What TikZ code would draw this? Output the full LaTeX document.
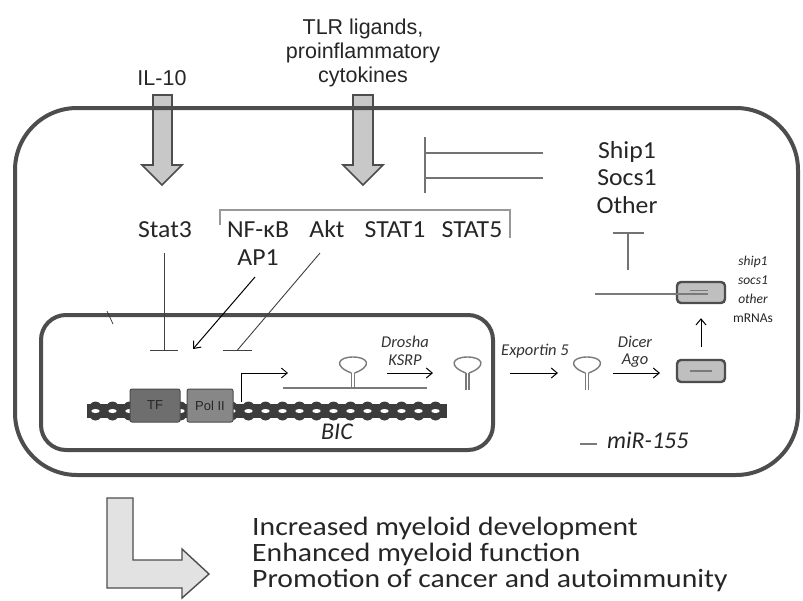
\documentclass[tikz,border=0pt]{standalone}
\usepackage{fontspec}
\setmainfont{Carlito}
\newfontfamily\arialf{Liberation Sans}
\newfontfamily\labfont[FakeStretch=1.05]{Carlito}
\newfontfamily\outfont[FakeStretch=1.12]{Carlito}
\usetikzlibrary{arrows.meta}
\definecolor{cellc}{HTML}{4D4D4D}
\definecolor{blockfill}{HTML}{C8C8C8}
\definecolor{lgray}{HTML}{E2E2E2}
\definecolor{rnac}{HTML}{7A7A7A}
\definecolor{dnac}{HTML}{3C3C3C}
\begin{document}
\begin{tikzpicture}[x=1pt,y=-1pt,
  lab/.style={font=\labfont\fontsize{24.5}{28}\selectfont, inner sep=0, anchor=base, text=black!85},
  arlab/.style={font=\arialf\fontsize{21.5}{25}\selectfont, inner sep=0, anchor=base, text=black!85},
  itlab/.style={font=\itshape\fontsize{16.5}{19}\selectfont, inner sep=0, anchor=base, text=black!80},
  smit/.style={font=\itshape\fontsize{13.5}{16}\selectfont, inner sep=0, anchor=base, text=black!85},
  outlab/.style={font=\outfont\fontsize{26.5}{30}\selectfont, inner sep=0, anchor=base west, text=black!85},
  blockarrow/.style={fill=blockfill, draw=cellc, line width=1.6pt},
  membrane/.style={draw=cellc, line width=4pt},
  inhib/.style={draw=black!75, line width=0.9pt},
  act/.style={draw=black, line width=1pt, -{Straight Barb[length=6pt,width=10pt]}},
  tline/.style={draw=black!55, line width=1.8pt},
  rna/.style={draw=rnac, line width=1.6pt},
  risc/.style={fill=black!25, draw=cellc, line width=2.4pt, rounded corners=4pt},
  protbox/.style={draw=black!70, line width=1pt, rounded corners=2pt, inner sep=0, font=\arialf\fontsize{13}{15}\selectfont, text=black!85}
]
\useasboundingbox (0,0) rectangle (803,600);
\fill[white] (0,0) rectangle (803,600);

% block arrows entering the cell
\path[blockarrow] (153,95) -- (172,95) -- (172,165) -- (182,165) -- (162,185) -- (142,165) -- (153,165) -- cycle;
\path[blockarrow] (353,95) -- (373,95) -- (373,165) -- (383,165) -- (363,185) -- (343,165) -- (353,165) -- cycle;

% cell and nucleus
\draw[membrane, rounded corners=62pt] (15,108) rectangle (798,475);
\draw[membrane, rounded corners=25pt] (41,315) rectangle (493,450);
\draw[black!80, line width=0.7pt] (107,311) -- (113,324);

% top labels
\node[arlab] (il10) at (162,85) {IL-10};
\node[arlab] (tlr1) at (363,34) {TLR ligands,};
\node[arlab] (tlr2) at (363,58.5) {proinflammatory};
\node[arlab] (tlr3) at (363,82) {cytokines};

% factors
\node[lab] (stat3) at (165,237) {Stat3};
\node[lab] (nfkb) at (258,237) {NF-κB};
\node[lab] (akt) at (327,237) {Akt};
\node[lab] (stat1) at (395,237) {STAT1};
\node[lab] (stat5) at (472,237) {STAT5};
\node[lab] (ap1) at (258,265) {AP1};
\draw[draw=black!40, line width=1.1pt] (220,225) -- (220,210) -- (510,210) -- (510,238);

% targets
\node[lab] (ship1) at (627,158) {Ship1};
\node[lab] (socs1) at (627,185) {Socs1};
\node[lab] (other) at (627,213) {Other};
\coordinate (tbarT) at (425,137);
\coordinate (tbarB) at (425,193);
\coordinate (s1end) at (543,153);
\coordinate (s2end) at (543,178);
\draw[tline] (tbarT) -- (tbarB);
\draw[tline] (s1end) -- (s1end -| tbarT);
\draw[tline] (s2end) -- (s2end -| tbarT);

% regulation onto BIC
\coordinate (stat3end) at (164,350);
\draw[inhib] (164,253) -- (stat3end);
\draw[inhib] ([xshift=-14pt]stat3end) -- ([xshift=14pt]stat3end);
\draw[act] (255,277) -- (193,349);
\coordinate (aktend) at (237.5,350);
\draw[inhib] (320,253) -- (aktend);
\draw[inhib] ([xshift=-14.5pt]aktend) -- ([xshift=14.5pt]aktend);

% DNA
\fill[dnac] (87,404) rectangle (447,418);
\foreach \i in {0,...,20} {
  \fill[dnac] ({95.5+17*\i},411) ellipse (7.5pt and 9.5pt);
}
\foreach \i in {0,...,20} {
  \fill[white] ({95.5+17*\i},411) ellipse (4.2pt and 2pt);
}
\node[protbox, fill=black!57, minimum width=50pt, minimum height=33pt] (tf) at (155,405.5) {TF};
\node[protbox, fill=black!47, minimum width=46pt, minimum height=33pt] (pol) at (210,405.5) {Pol II};
\node[font=\itshape\fontsize{24}{28}\selectfont, inner sep=0, anchor=base, text=black!85] (bic) at (337,439) {BIC};

% transcription
\coordinate (tss) at (241,402);
\coordinate (tsend) at (288,373);
\draw[act, line width=0.9pt] (tss) |- (tsend);

% pri-miRNA
\draw[rna] (283,388) -- (427,388);
\newcommand{\hairloop}[2]{%
  \draw[rna, line width=1.4pt] (#1-1.6,373) .. controls (#1-20,366) and (#1-15,357) .. (#1,357) .. controls (#1+15,357) and (#1+20,366) .. (#1+1.6,373);
  \draw[rna, line width=1.4pt] (#1-1.6,373) -- (#1-1.6,#2);
  \draw[rna, line width=1.4pt] (#1+1.6,373) -- (#1+1.6,#2);
}
\hairloop{353}{388}
\node[itlab] (drosha) at (405,347) {Drosha};
\node[itlab] (ksrp) at (405,365) {KSRP};
\coordinate (d1) at (387,373); \coordinate (d2) at (433,373);
\draw[act] (d1) -- (d2);

% pre-miRNA
\hairloop{467.5}{390}
\node[itlab] (exp) at (535,355) {Exportin 5};
\coordinate (e1) at (510,373); \coordinate (e2) at (558,373);
\draw[act] (e1) -- (e2);
\hairloop{587}{390}
\node[itlab] (dicer) at (635,347) {Dicer};
\node[itlab] (ago) at (635,364) {Ago};
\coordinate (c1) at (613,373); \coordinate (c2) at (660,373);
\draw[act] (c1) -- (c2);

% RISC
\node[risc, minimum width=48pt, minimum height=22pt, inner sep=0] (risc1) at (701,371) {};
\draw[rna, line width=1.3pt] (690,371) -- (712,371);
\node[risc, minimum width=48pt, minimum height=21pt, inner sep=0] (risc2) at (701,292.5) {};
\draw[rna, line width=1.6pt] (595,294) -- (708,294);
\draw[rna, line width=1.3pt] (690,290.5) -- (708,290.5);
\draw[act] ([yshift=12pt]risc1.north) -- ([yshift=-14pt]risc2.south);
\coordinate (tb) at (628,233);
\draw[tline] (628,270) -- (tb);
\draw[tline] ([xshift=-15.5pt]tb) -- ([xshift=15.5pt]tb);

\node[smit] (m1) at (753,265) {ship1};
\node[smit] (m2) at (753,284) {socs1};
\node[smit] (m3) at (753,303) {other};
\node[font=\fontsize{13.5}{16}\selectfont, inner sep=0, anchor=base, text=black!85] (m4) at (753,322) {mRNAs};

% legend
\draw[rna, line width=1.8pt] (580,444) -- (597,444);
\node[font=\itshape\fontsize{24}{28}\selectfont, inner sep=0, anchor=base west, text=black!85] (mir) at (607,448) {miR-155};

% outcome
\path[fill=lgray, draw=cellc, line width=1.4pt] (107,498) -- (133,498) -- (133,560) -- (182,560) -- (182,549) -- (209,574) -- (182,598) -- (182,588) -- (107,588) -- cycle;
\node[outlab] (o1) at (252,535) {Increased myeloid development};
\node[outlab] (o2) at (252,561) {Enhanced myeloid function};
\node[outlab] (o3) at (252,587) {Promotion of cancer and autoimmunity};
\end{tikzpicture}
\end{document}
